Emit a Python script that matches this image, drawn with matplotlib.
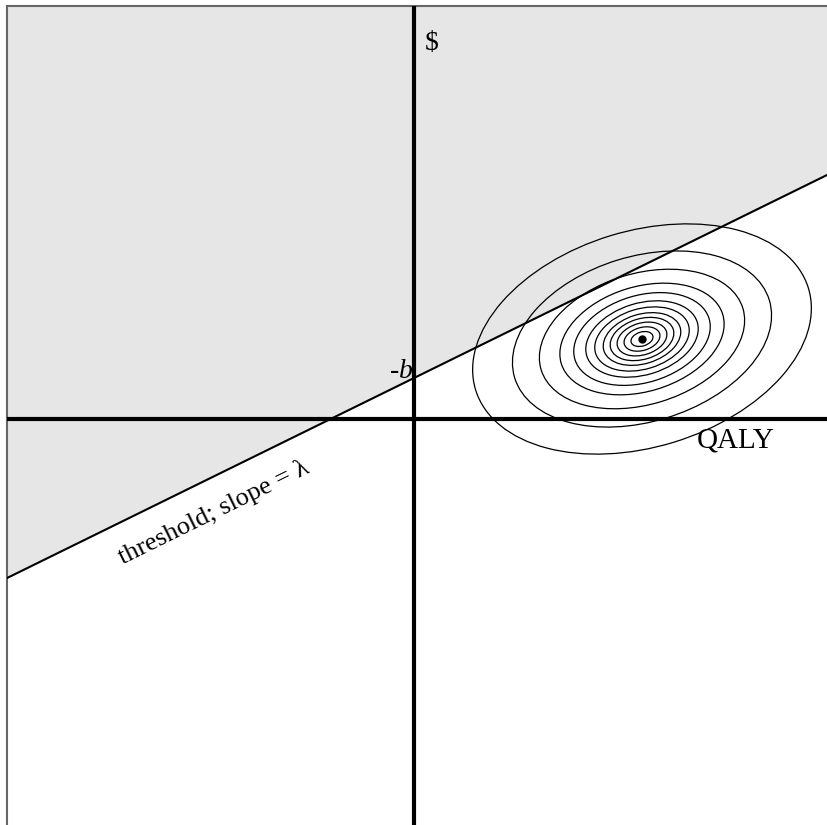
import numpy as np
import matplotlib
matplotlib.use("Agg")
import matplotlib.pyplot as plt
from matplotlib.patches import Ellipse

# plot window in "pixel-like" units, origin where the axes cross
x_range = [-407, 413]
y_range = [-406, 413]

# threshold line: y = slope * x + intercept  (intercept labelled -b)
slope = 0.4915
intercept = 41

# cloud of (QALY, $) outcomes: centre, outer ring semi-axes and tilt
cloud_center = [228, 80]
outer_axes = [174, 108]
tilt_deg = 17
ring_scale = [0.065, 0.106, 0.147, 0.188, 0.229, 0.279, 0.332,
              0.403, 0.485, 0.606, 0.765, 1.0]

label_dollar = "$"
label_qaly = "QALY"
label_b = "-$b$"
label_threshold = "threshold; slope = λ"

plt.rcParams['font.family'] = ['Liberation Serif', 'DejaVu Serif']
plt.rcParams['mathtext.fontset'] = 'custom'
plt.rcParams['mathtext.it'] = 'Liberation Serif:italic'
plt.rcParams['mathtext.rm'] = 'Liberation Serif'

fig = plt.figure(figsize=(8.27, 8.25), dpi=100)
ax = fig.add_axes([7 / 827, 0, 820 / 827, 819 / 825])
ax.set_xlim(x_range)
ax.set_ylim(y_range)
ax.set_xticks([])
ax.set_yticks([])
for s in ['right', 'bottom']:
    ax.spines[s].set_visible(False)
for s in ['top', 'left']:
    ax.spines[s].set_color('#666666')
    ax.spines[s].set_linewidth(1.5)

xs = np.array(x_range, dtype=float)
ys = slope * xs + intercept
ax.fill_between(xs, ys, y_range[1], color='#e6e6e6', zorder=0, lw=0)
ax.plot(xs, ys, color='black', lw=1.5, zorder=3)

ax.axhline(0, color='black', lw=3, zorder=4)
ax.axvline(0, color='black', lw=3, zorder=4)

for k in ring_scale:
    e = Ellipse(cloud_center, 2 * outer_axes[0] * k, 2 * outer_axes[1] * k,
                angle=tilt_deg, fill=False, ec='black', lw=0.9, zorder=2)
    ax.add_patch(e)
ax.plot(*cloud_center, 'o', color='black', ms=5, zorder=5)

ax.text(18, 376, label_dollar, fontsize=20, ha='center', va='center')
ax.text(-1, 47, label_b, fontsize=20, ha='right', va='center')
ax.text(322, -21, label_qaly, fontsize=21, ha='center', va='center')
angle = np.degrees(np.arctan(slope))
ax.text(-200, -94, label_threshold, fontsize=19, rotation=angle,
        rotation_mode='anchor', ha='center', va='center')

fig.savefig("out.png", dpi=100)
